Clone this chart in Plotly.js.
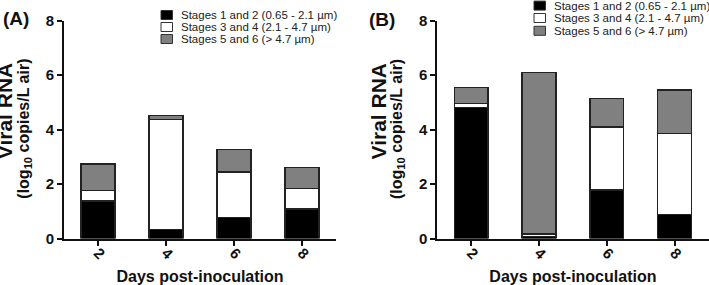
<!DOCTYPE html>
<html>
<head>
<meta charset="utf-8">
<script src="https://cdn.plot.ly/plotly-3.0.1.min.js"></script>
<style>html,body{margin:0;padding:0;background:#fff;}#chart{width:709px;height:285px;}</style>
</head>
<body>
<div id="chart"></div>
<script>
// ---- data ----
const days = ['2', '4', '6', '8'];
const seriesNames = ['Stages 1 and 2 (0.65 - 2.1 µm)', 'Stages 3 and 4 (2.1 - 4.7 µm)', 'Stages 5 and 6 (> 4.7 µm)'];
// Panel A (segment heights, log10 copies/L air)
const aStages12 = [1.38, 0.34, 0.77, 1.08];
const aStages34 = [0.39, 4.04, 1.68, 0.76];
const aStages56 = [0.97, 0.13, 0.82, 0.77];
// Panel B
const bStages12 = [4.82, 0.07, 1.78, 0.89];
const bStages34 = [0.14, 0.10, 2.32, 2.97];
const bStages56 = [0.58, 5.92, 1.05, 1.59];
const yTicks = [0, 2, 4, 6, 8];
const panelLabels = ['(A)', '(B)'];
const xTitle = 'Days post-inoculation';
const yTitleLine1 = 'Viral RNA';
const yTitleLine2 = '(log<sub>10</sub> copies/L air)';

// ---- styling ----
const W = 709, H = 285;
const fillColors = ['#000000', '#ffffff', '#808080'];
const FONT = 'Liberation Sans, Arial, Helvetica, sans-serif';
const px = v => v / W;
const py = v => 1 - v / H;

function makeTraces(vals, xa, ya) {
  return vals.map((v, i) => ({
    type: 'bar', x: days, y: v, name: seriesNames[i], xaxis: xa, yaxis: ya,
    width: 0.5, showlegend: false, hoverinfo: 'skip',
    marker: {color: fillColors[i], line: {color: '#222', width: 1.4}}
  }));
}
const traces = [
  ...makeTraces([aStages12, aStages34, aStages56], 'x', 'y'),
  ...makeTraces([bStages12, bStages34, bStages56], 'x2', 'y2')
];

const tickFont = {family: FONT, size: 15, color: '#111', weight: 'bold'};
function xAxis(domain, anchor) {
  return {
    domain: domain, anchor: anchor, type: 'category', categoryorder: 'array', categoryarray: days,
    range: [-0.5, 3.5], showline: true, linecolor: '#111', linewidth: 2,
    ticks: 'outside', ticklen: 5, tickwidth: 2, tickcolor: '#111', tickangle: 45,
    ticklabelstandoff: -7,
    tickfont: tickFont, showgrid: false, zeroline: false, fixedrange: true,
    title: {text: xTitle, font: {family: FONT, size: 16, color: '#111', weight: 'bold'}, standoff: 11}
  };
}
function yAxis(anchor) {
  return {
    domain: [1 - 238.5 / H, 1 - 20.7 / H], anchor: anchor, range: [0, 8],
    tickvals: yTicks, ticktext: yTicks.map(String),
    showline: true, linecolor: '#111', linewidth: 2,
    ticks: 'outside', ticklen: 5, tickwidth: 2, tickcolor: '#111',
    tickfont: tickFont, showgrid: false, zeroline: false, fixedrange: true
  };
}

// legend drawn as shapes + annotations
const legendSpecs = [
  {boxX: 161, textX: 179.5, rows: [15, 27, 39]},
  {boxX: 534, textX: 552.5, rows: [5.6, 18, 30.8]}
];
const shapes = [];
const annotations = [];
legendSpecs.forEach(spec => {
  seriesNames.forEach((nm, i) => {
    const cy = spec.rows[i];
    shapes.push({type: 'rect', xref: 'paper', yref: 'paper',
      x0: px(spec.boxX), x1: px(spec.boxX + 11.5), y0: py(cy + 4.5), y1: py(cy - 4.5),
      fillcolor: fillColors[i], line: {color: '#333', width: 1}});
    annotations.push({xref: 'paper', yref: 'paper', x: px(spec.textX), y: py(cy),
      xanchor: 'left', yanchor: 'middle', showarrow: false, borderpad: 0,
      text: nm.replace('>', '&gt;'), font: {family: FONT, size: 11.5, color: '#222'}});
  });
});
// y titles (two lines, first one larger)
[0, 373.3].forEach(off => {
  annotations.push({xref: 'paper', yref: 'paper', x: px(off + 377.5 - 373.3), y: py(111),
    xanchor: 'center', yanchor: 'middle', showarrow: false, textangle: -90,
    text: yTitleLine1, font: {family: FONT, size: 21, color: '#111', weight: 'bold'}});
  annotations.push({xref: 'paper', yref: 'paper', x: px(off + 397.5 - 373.3), y: py(128.5),
    xanchor: 'center', yanchor: 'middle', showarrow: false, textangle: -90,
    text: yTitleLine2, font: {family: FONT, size: 16, color: '#111', weight: 'bold'}});
});
// panel labels
annotations.push({xref: 'paper', yref: 'paper', x: px(1), y: py(18.3), xanchor: 'left', yanchor: 'middle',
  showarrow: false, text: panelLabels[0], font: {family: FONT, size: 19, color: '#111', weight: 'bold'}});
annotations.push({xref: 'paper', yref: 'paper', x: px(366.5), y: py(19.7), xanchor: 'left', yanchor: 'middle',
  showarrow: false, text: panelLabels[1], font: {family: FONT, size: 19, color: '#111', weight: 'bold'}});

const layout = {
  width: W, height: H, margin: {l: 0, r: 0, t: 0, b: 0},
  paper_bgcolor: '#fff', plot_bgcolor: '#fff', barmode: 'stack', bargap: 0.5,
  showlegend: false,
  xaxis: xAxis([64 / W, 336 / W], 'y'),
  yaxis: yAxis('x'),
  xaxis2: xAxis([437.3 / W, 708.5 / W], 'y2'),
  yaxis2: yAxis('x2'),
  shapes: shapes, annotations: annotations
};
Plotly.newPlot('chart', traces, layout, {staticPlot: true, displayModeBar: false});
</script>
</body>
</html>
